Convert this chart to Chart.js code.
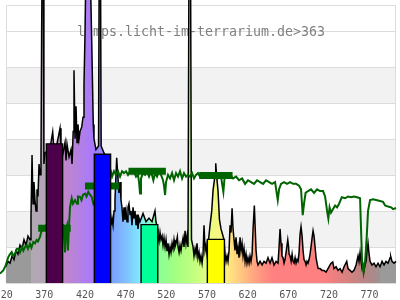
<!DOCTYPE html>
<html>
<head>
<meta charset="utf-8">
<script src="https://cdn.jsdelivr.net/npm/chart.js@4.4.1/dist/chart.umd.min.js"></script>
<style>
  html, body { margin: 0; padding: 0; background: #fff; }
</style>
</head>
<body>
<canvas id="spec" width="400" height="300"></canvas>
<script>
// axis
const xMin = 313, xMax = 800;
const yMax = 7.85;
const frameLeft = 320, frameTop = 7.71;
const tickNm = [320, 370, 420, 470, 520, 570, 620, 670, 720, 770];
const shadedBands = [[1, 2], [3, 4], [5, 6]];
const gridValues = [0, 1, 2, 3, 4, 5, 6, 7];
const titleText = "lamps.licht-im-terrarium.de>363";

// lamp spectrum (black line)
const specNm = [320, 322.8, 325.3, 327.8, 330.2, 332.7, 335.1, 337.6, 340.1, 342.5, 345, 347.4, 349.9, 351.1,
  352.4, 353.6, 354.8, 356, 357.3, 358.5, 359.7, 361, 362.2, 363.4, 364.2, 364.9, 366.3, 367, 368.3,
  372, 375, 377.8, 379, 383, 386.8, 388, 390.5, 393, 394.2, 395.4, 397.9, 400.3, 401.6, 403, 404, 405.3,
  406.5, 407.7, 408.9, 410.2, 411.4, 413.5, 415.1, 416.3, 417.6, 418.8, 423.7, 425.8, 427.7, 428.6,
  431, 434.2, 435, 436.6, 437.4, 441, 447, 448.3, 449.5, 450.7, 452, 453.2, 454.4, 456.5, 457.5, 458.1,
  459.3, 460.6, 461.8, 463, 464.3, 465.5, 466.7, 468, 469.2, 470.4, 471.6, 472.9, 474.1, 475.3, 476.6,
  477.8, 479, 480.3, 481.5, 482.7, 483.9, 485.2, 488.9, 492.6, 496.2, 499.9, 503.6, 504.8, 506.9,
  507.3, 508.6, 509.8, 511, 512.3, 513.5, 514.7, 516, 517.2, 518.4, 519.6, 520.9, 522.1, 523.3, 524.6,
  525.8, 527, 528.2, 529.5, 531.1, 532, 533.2, 534.4, 535.6, 536.9, 538.1, 539.3, 540.6, 541.8, 543,
  544.2, 545.4, 547.3, 548.5, 550.4, 551.6, 552.9, 554.1, 555.3, 556.5, 557.8, 559, 560.2, 561.5, 562.7,
  563.9, 565.2, 566.4, 567.6, 571.3, 573.4, 575, 577.5, 578.3, 579.3, 581.1, 582.9, 584.8, 588.5,
  589.8, 591, 592.2, 593.4, 594.7, 595.9, 597.1, 598.4, 599.6, 600.8, 602, 603.3, 604.5, 605.7, 607,
  608.2, 609.4, 610.7, 611.9, 613.1, 614.4, 615.6, 616.8, 618, 619.3, 620.5, 621.7, 623, 624.2, 625.8,
  626.7, 627.9, 629.1, 630.3, 632.8, 635.3, 637.7, 640.2, 642.6, 645.1, 647.5, 650, 652.5, 654.9,
  656.2, 657.4, 658.6, 659.8, 661.1, 662.3, 663.5, 664.8, 666.9, 667.9, 668.5, 669.7, 671, 672.2,
  673.4, 674.7, 675.9, 677.1, 678.3, 679.5, 680.8, 682, 683.2, 684.5, 685.7, 686.9, 688.2, 689.4,
  690.6, 691.8, 693.1, 694.3, 695.5, 696.8, 698, 699.2, 700.5, 701.7, 702.9, 704.2, 706.6, 709.1,
  711.5, 714, 716.4, 718.9, 720.1, 722.2, 723.8, 726.3, 728.7, 731.2, 733.7, 736.1, 739.4, 741,
  743.5, 745.9, 748.4, 750.9, 753.3, 754.5, 755.8, 757, 758.3, 759.5, 760.7, 762, 763.2, 764.4, 765.6,
  766.9, 768.1, 770.5, 773, 775.4, 777.9, 780.4, 782.8, 785.3, 787.7, 790.2, 792.7, 793.5, 795.1,
  797.6, 800];
const specVal = [0.45, 0.6, 0.55, 0.75, 0.65, 0.9, 0.8, 1.05, 0.95, 1.2, 1.05, 1.3, 1.2, 1.8,
  3.55, 2.2, 2.8, 2.3, 2.0, 2.6, 2.4, 3.3, 3.0, 3.4, 6.9, 9, 9, 3.3, 3.6,
  3.7, 3.8, 4.19, 3.8, 3.85, 4.29, 3.8, 3.6, 3.9, 3.4, 3.85, 3.5, 3.7, 3.3, 4.2, 5.9, 4.0,
  4.9, 3.9, 4.4, 4.0, 4.2, 4.33, 4.6, 5.5, 7.0, 9, 9, 6.7, 4.4, 4.0,
  3.7, 3.8, 9, 9, 3.8, 3.6, 3.4, 1.8, 1.6, 1.8, 1.6, 2.0, 2.3, 3.47, 3.1, 2.9,
  2.5, 2.8, 2.3, 2.1, 1.7, 2.1, 1.75, 2.0, 1.7, 2.1, 2.2, 1.9, 2.0, 1.6, 2.1,
  1.8, 2.0, 1.6, 1.9, 1.5, 1.8, 1.7, 1.93, 1.7, 1.8, 1.7, 2.0, 1.7, 1.5,
  1.3, 1.15, 1.4, 1.2, 1.3, 1.05, 1.25, 1.0, 1.2, 0.9, 1.1, 0.8, 1.0, 0.85, 1.1,
  0.95, 1.2, 1.0, 1.1, 1.28, 1.0, 0.85, 1.05, 0.9, 1.1, 1.25, 1.0, 1.45, 1.1, 1.3,
  1.0, 9, 9, 1.2, 1.0, 0.75, 0.95, 0.8, 1.1, 0.7, 0.85, 0.6, 0.75, 0.55, 0.8,
  1.6, 0.9, 1.05, 0.8, 1.6, 2.0, 2.57, 3.0, 3.32, 3.0, 2.57, 1.76, 1.5, 1.2,
  0.8, 0.6, 0.75, 0.6, 0.9, 1.6, 1.4, 2.07, 1.5, 1.2, 0.9, 1.27, 0.8, 1.0, 0.7,
  1.27, 0.9, 1.1, 0.75, 0.95, 0.6, 0.8, 0.55, 0.7, 0.55, 0.75, 0.6, 0.8, 1.5, 2.15,
  1.6, 0.9, 0.6, 0.5, 0.6, 0.5, 0.6, 0.55, 0.7, 0.55, 0.7, 0.5, 0.6, 0.55,
  1.0, 1.5, 1.1, 0.75, 0.7, 0.55, 0.65, 0.85, 1.2, 1.0, 0.8, 0.75, 0.6, 0.8,
  0.6, 0.55, 0.7, 0.55, 0.65, 0.6, 0.85, 1.35, 1.56, 1.3, 0.9, 0.65, 0.6, 0.5,
  0.6, 0.55, 0.65, 0.8, 1.0, 1.25, 1.45, 1.3, 1.0, 0.7, 0.55, 0.4, 0.4, 0.35,
  0.35, 0.3, 0.4, 0.5, 0.55, 0.58, 0.4, 0.45, 0.35, 0.4, 0.3, 0.45, 0.6, 0.4,
  0.35, 0.3, 0.35, 0.5, 0.75, 0.6, 0.85, 0.6, 0.4, 0.5, 0.35, 0.5, 0.6, 0.9, 1.1,
  0.8, 0.6, 0.5, 0.55, 0.45, 0.55, 0.45, 0.6, 0.5, 0.6, 0.55, 0.7, 0.74, 0.6,
  0.55, 0.6];

// sunlight reference (green line)
const sunNm = [313, 317, 320, 323.2, 325.3, 327.4, 329, 331.5, 333.9, 335.5, 337.6, 340.1, 341.7, 343.8,
  345.8, 347.4, 349.9, 351.7, 354, 356, 358.1, 359.7, 362.2, 364.3, 365.9, 369.6, 380.7, 389.3, 390.9,
  391.7, 393, 394.2, 395.4, 396.6, 397.9, 399.1, 401.2, 402.8, 405.3, 407.7, 408.9, 411.4, 413.2, 415.1,
  417.6, 419.4, 421.6, 423.7, 425.8, 427.8, 436, 449.5, 450.8, 453.2, 455.7, 458.1, 460.6, 463.1, 465.5,
  468, 470.4, 472.9, 475.4, 477.8, 480.3, 482.7, 484, 485.2, 486.4, 488.9, 491.4, 493.8, 496.3, 498.7,
  501.6, 503.7, 506.1, 508.6, 511, 513.5, 514.7, 516, 517.2, 519.6, 522.1, 524.6, 527, 529.5, 531.9,
  534.4, 536.9, 539.3, 541.8, 544.2, 546.7, 549.2, 551.6, 554.1, 556.5, 559, 565.2, 571.3, 577.5, 581.1,
  584.8, 587.7, 589.1, 592.2, 595.9, 599.6, 603.3, 607, 610.7, 614.4, 618, 621.7, 625.4, 629.1, 632.8,
  636.5, 640.2, 643.9, 647.6, 651.3, 654.6, 656.2, 658.6, 662.3, 666, 669.7, 673.4, 677.1, 680.8, 683.2,
  685.3, 686.9, 688.8, 691.8, 695.5, 699.2, 702.9, 706.6, 710.3, 712.8, 715.2, 716.8, 718.3, 720.1,
  722.6, 725.1, 727.5, 730, 733.3, 737.4, 741, 744.7, 748.4, 752.1, 755.8, 757, 758.3, 760.1, 762, 764,
  765.6, 768.1, 771.8, 775.5, 779.2, 784.1, 786.6, 790.2, 794, 796.4, 800];
const sunVal = [0.26, 0.35, 0.49, 0.72, 0.8, 0.86, 0.75, 0.82, 0.95, 0.95, 0.85, 1.0, 0.9, 1.0,
  1.05, 0.95, 1.09, 0.98, 1.14, 1.1, 1.19, 1.15, 1.28, 1.46, 1.55, 1.6, 1.55, 1.6, 1.6,
  1.3, 0.85, 1.5, 1.6, 0.9, 1.6, 2.1, 2.35, 2.2, 2.3, 2.2, 2.4, 2.39, 2.3, 2.45,
  2.48, 2.4, 2.53, 2.45, 2.39, 2.2, 2.5, 3.08, 2.95, 3.1, 3.0, 3.1, 2.95, 3.1, 3.05,
  3.1, 3.0, 3.1, 3.05, 3.1, 2.95, 3.0, 2.8, 2.48, 2.9, 3.05, 3.0, 3.1, 2.95, 3.1,
  2.85, 3.05, 2.95, 3.1, 3.0, 2.85, 2.7, 2.44, 2.8, 3.0, 2.9, 3.05, 2.85, 3.05, 2.95,
  3.1, 2.9, 3.05, 2.95, 3.0, 2.95, 3.05, 2.9, 3.0, 3.05, 2.95, 3.0, 2.95, 3.0, 2.9,
  2.95, 2.53, 2.9, 2.95, 3.0, 2.9, 2.95, 2.85, 2.9, 2.75, 2.85, 2.8, 2.75, 2.85, 2.8,
  2.75, 2.85, 2.8, 2.75, 2.8, 2.3, 2.6, 2.75, 2.8, 2.75, 2.8, 2.75, 2.75, 2.7, 2.6,
  1.88, 2.2, 2.5, 2.55, 2.6, 2.5, 2.6, 2.55, 2.55, 2.4, 2.0, 1.79, 2.1, 1.95,
  2.05, 2.15, 2.1, 2.2, 2.38, 2.35, 2.4, 2.38, 2.4, 2.38, 2.35, 1.5, 0.6, 0.3, 0.6, 1.28,
  2.0, 2.3, 2.32, 2.3, 2.28, 2.25, 2.15, 2.12, 2.1, 2.05, 2.08];

// band averages of the reference (thick green steps)
const avgStart = [360, 417.5, 471, 558];
const avgEnd = [400, 459.5, 517, 599];
const avgValue = [1.52, 2.69, 3.10, 2.98];

// lamp band columns
const bandStart = [370, 429, 486.5, 568];
const bandEnd = [390, 449, 507, 589];
const bandValue = [3.86, 3.57, 1.62, 1.21];
const bandColor = ["#4b0049", "#0000ff", "#00ff99", "#ffff00"];

// fill colour under the spectrum, by wavelength
const fillStops = [
  [320, "#9a9a9a"], [351, "#9a9a9a"], [351.5, "#b1a8b1"], [370, "#b4a4b8"],
  [390, "#c288c6"], [410, "#b480e2"], [428, "#a878ff"],
  [449, "#7a9cff"], [470, "#80c4ff"], [486, "#80ecff"],
  [507, "#88ff98"], [530, "#a4ff80"], [555, "#c8ff80"], [570, "#e8ff80"],
  [590, "#fff080"], [605, "#ffd080"], [620, "#ffb080"], [640, "#ff8c80"], [650, "#ff8080"],
  [710, "#ff8080"], [740, "#d88080"], [765, "#b48686"], [779, "#a09090"], [781, "#9a9a9a"], [800, "#9a9a9a"]
];

function pts(xs, ys) {
  return xs.map((x, i) => ({ x: x, y: ys[i] }));
}

function spectrumFill(context) {
  const chart = context.chart;
  const area = chart.chartArea;
  if (!area) return "#999";
  const xs = chart.scales.x;
  const g = chart.ctx.createLinearGradient(area.left, 0, area.right, 0);
  fillStops.forEach(([nm, c]) => {
    const p = (xs.getPixelForValue(nm) - area.left) / (area.right - area.left);
    g.addColorStop(Math.min(1, Math.max(0, p)), c);
  });
  return g;
}

const datasets = [];

bandStart.forEach((s, i) => {
  datasets.push({
    data: [{ x: s, y: 0 }, { x: s, y: bandValue[i] }, { x: bandEnd[i], y: bandValue[i] }, { x: bandEnd[i], y: 0 }],
    borderColor: "#000",
    borderWidth: 1.4,
    backgroundColor: bandColor[i],
    fill: "origin",
    order: 0
  });
});

avgStart.forEach((s, i) => {
  datasets.push({
    data: [{ x: s, y: avgValue[i] }, { x: avgEnd[i], y: avgValue[i] }],
    borderColor: "#006400",
    borderWidth: 7,
    borderCapStyle: "butt",
    fill: false,
    order: 1
  });
});

datasets.push({
  data: pts(sunNm, sunVal),
  borderColor: "#006400",
  borderWidth: 2,
  fill: false,
  clip: false,
  order: 2
});

datasets.push({
  data: pts(specNm, specVal),
  borderColor: "#000",
  borderWidth: 1.5,
  backgroundColor: spectrumFill,
  fill: "origin",
  clip: false,
  order: 3
});

// bands, grid, frame and site label behind the data
const framePlugin = {
  id: "frame",
  beforeDatasetsDraw(chart) {
    const { ctx, chartArea: a, scales: { x, y } } = chart;
    const l = Math.round(x.getPixelForValue(frameLeft)) + 0.5;
    const r = Math.round(a.right) - 0.5;
    const t = Math.round(y.getPixelForValue(frameTop)) + 0.5;
    const b = Math.round(y.getPixelForValue(0)) + 0.5;
    ctx.save();
    ctx.fillStyle = "#f2f2f2";
    shadedBands.forEach(([lo, hi]) => {
      const y1 = Math.round(y.getPixelForValue(hi)), y2 = Math.round(y.getPixelForValue(lo));
      ctx.fillRect(l, y1, r - l, y2 - y1);
    });
    ctx.strokeStyle = "#dcdcdc";
    ctx.lineWidth = 1;
    ctx.beginPath();
    gridValues.forEach(v => {
      const py = Math.round(y.getPixelForValue(v)) + 0.5;
      ctx.moveTo(l, py);
      ctx.lineTo(r, py);
    });
    ctx.moveTo(l, t); ctx.lineTo(r, t);
    ctx.moveTo(l, t); ctx.lineTo(l, b);
    ctx.moveTo(r, t); ctx.lineTo(r, b);
    ctx.stroke();

    ctx.fillStyle = "#808080";
    ctx.font = "13.3px 'DejaVu Sans Mono'";
    ctx.textAlign = "center";
    ctx.textBaseline = "alphabetic";
    ctx.fillText(titleText, (l + r) / 2, 35.5);
    ctx.restore();
  }
};

new Chart(document.getElementById("spec"), {
  type: "line",
  data: { datasets: datasets },
  options: {
    responsive: false,
    animation: false,
    layout: { padding: { left: 0, right: 4, top: 0, bottom: 0 } },
    elements: { point: { radius: 0 }, line: { tension: 0 } },
    plugins: { legend: { display: false }, tooltip: { enabled: false } },
    scales: {
      x: {
        type: "linear",
        min: xMin,
        max: xMax,
        grid: { display: false, drawTicks: false },
        border: { display: false },
        afterBuildTicks: s => { s.ticks = tickNm.map(v => ({ value: v })); },
        afterFit: s => { s.height = 17; s.paddingLeft = 0; s.paddingRight = 0; },
        ticks: {
          autoSkip: false,
          maxRotation: 0,
          padding: 6,
          labelOffset: -2,
          color: "#555",
          font: { family: "'DejaVu Sans Mono'", size: 10 },
          callback: v => String(v)
        }
      },
      y: { display: false, min: 0, max: yMax }
    }
  },
  plugins: [framePlugin]
});
</script>
</body>
</html>
